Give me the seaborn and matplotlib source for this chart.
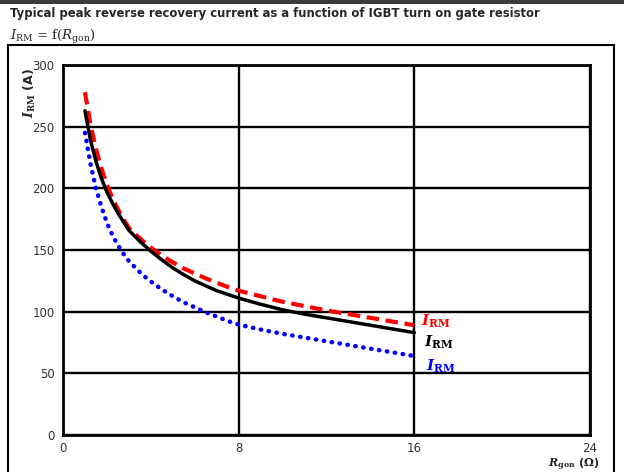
import matplotlib
matplotlib.use("Agg")
import matplotlib.pyplot as plt
import seaborn as sns
import pandas as pd
from matplotlib.patches import Rectangle

sns.set_theme(style="white")
plt.rcParams['font.family'] = ['DejaVu Sans']
plt.rcParams['mathtext.fontset'] = 'dejavuserif'

r_gon = [1, 1.25, 1.5, 1.75, 2, 2.25, 2.5, 2.75, 3, 3.25, 3.5, 3.75, 4, 4.5, 5,
         5.5, 6, 6.5, 7, 7.5, 8, 9, 10, 11, 12, 13, 14, 15, 16]
irm_red = [278, 252, 232, 216, 203, 192, 183, 175, 168, 163.5, 159.5, 155.5, 152,
           145.5, 140, 135, 131, 127, 123.5, 120, 117, 112.5, 108, 104.5, 101, 98,
           95, 92, 89]
irm_black = [263, 239, 222, 208, 197, 188, 180, 173, 166, 161.5, 157, 153, 149,
             142, 135.5, 130, 125, 121, 117, 114, 111, 106, 101.5, 98, 95, 92, 89,
             86, 83]
irm_blue = [245, 220, 200, 185, 172, 162, 154, 147, 141, 136.5, 132, 128, 124.5,
            118, 112.5, 107.5, 103.5, 99.5, 96, 92.5, 89.5, 85.5, 82, 79, 76, 73,
            70, 67, 64]
x_ticks = [0, 8, 16, 24]
y_ticks = [0, 50, 100, 150, 200, 250, 300]

title = "Typical peak reverse recovery current as a function of IGBT turn on gate resistor"

fig = plt.figure(figsize=(6.24, 4.72), dpi=100)
ax = fig.add_axes([63/624, 1-435/472, (590-63)/624, (435-65)/472])

df = pd.DataFrame({"x": r_gon, "red": irm_red, "black": irm_black, "blue": irm_blue})

sns.lineplot(data=df, x="x", y="black", ax=ax, color="black", lw=2.5, zorder=4)
sns.lineplot(data=df, x="x", y="red", ax=ax, color="#ff0000", lw=3, zorder=3,
             linestyle=(0, (3, 1.6)))
sns.lineplot(data=df, x="x", y="blue", ax=ax, color="#0000ff", lw=3.2, zorder=2,
             linestyle=(0, (0.1, 1.7)))
ax.lines[2].set_dash_capstyle("round")

ax.set_xlim(0, 24)
ax.set_ylim(0, 300)
ax.set_xticks(x_ticks)
ax.set_yticks(y_ticks)
ax.grid(True, color="black", lw=1.7)
ax.set_axisbelow(True)
for s in ax.spines.values():
    s.set_color("black")
    s.set_linewidth(2)
ax.tick_params(axis="y", length=0, labelsize=8.5, colors="#333333", pad=6)
ax.tick_params(axis="x", length=0, labelsize=8.5, colors="#333333", pad=5)
ax.set_xlabel("")
ax.set_ylabel("")

# curve labels
lab = r"$\boldsymbol{I}_{\mathbf{RM}}$"
ax.text(16.3, 92, lab, color="#ff0000", fontsize=11, va="center", ha="left")
ax.text(16.45, 75, lab, color="black", fontsize=11, va="center", ha="left")
ax.text(16.55, 56, lab, color="#0000ff", fontsize=11, va="center", ha="left")

# axis labels
fig.text(30/624, 1-93/472, r"$\boldsymbol{I}_{\mathbf{RM}}$ (A)", rotation=90,
         fontsize=9, fontweight="bold", ha="center", va="center")
fig.text(574/624, 1-464.5/472, r"$\boldsymbol{R}_{\mathbf{gon}}$ ($\mathbf{\Omega}$)",
         fontsize=8, fontweight="bold", ha="center", va="center")

# header
fig.patches.append(Rectangle((0, 1-4/472), 1, 4/472, transform=fig.transFigure,
                             facecolor="#3c3c3c", edgecolor="none"))
fig.text(10/624, 1-13/472, title, fontsize=8.4, fontweight="bold", ha="left", va="center")
fig.text(10/624, 1-37/472, r"$I_{\mathrm{RM}}$ = f($R_{\mathrm{gon}}$)",
         fontsize=9.5, family="DejaVu Serif", ha="left", va="center")
fig.patches.append(Rectangle((8/624, -0.05), (614-8)/624, 1-45/472+0.05,
                             transform=fig.transFigure, facecolor="none",
                             edgecolor="black", lw=1.5))

fig.savefig("out.png", dpi=100)
